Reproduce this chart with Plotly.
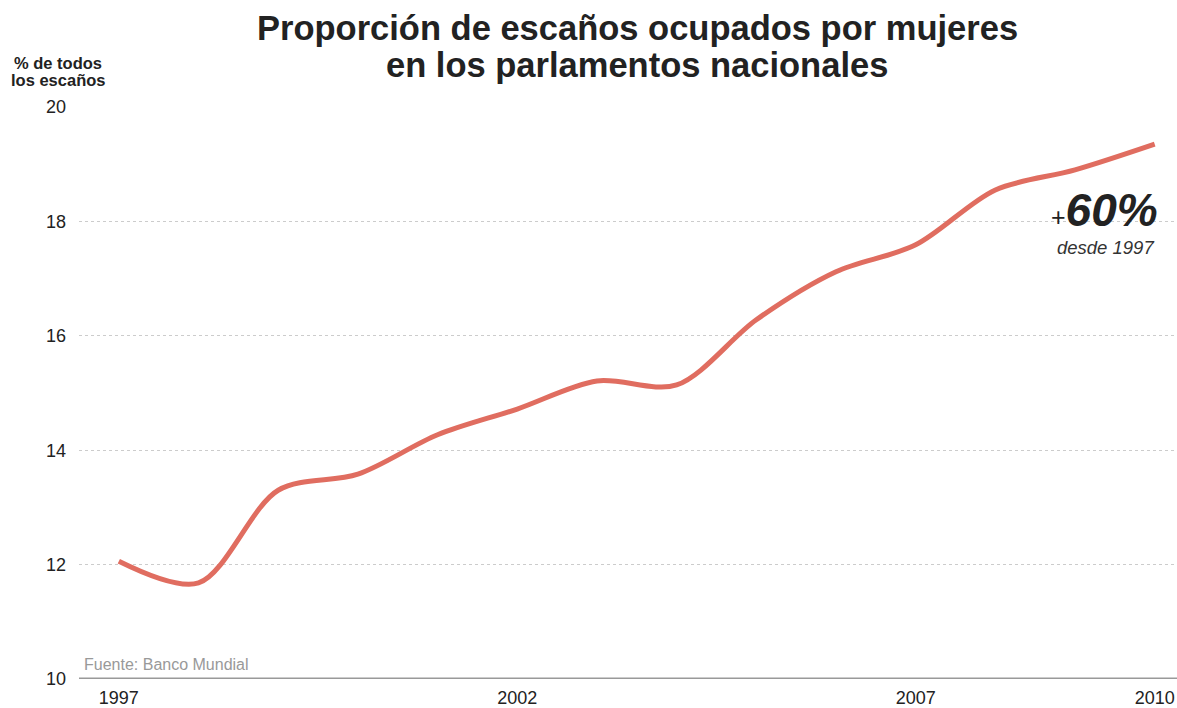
import plotly.graph_objects as go

years = [1997, 1998, 1999, 2000, 2001, 2002, 2003, 2004, 2005, 2006, 2007, 2008, 2009, 2010]
share = [12.06, 11.68, 13.30, 13.58, 14.27, 14.72, 15.21, 15.14, 16.28, 17.12, 17.59, 18.55, 18.90, 19.35]
x_ticks = [1997, 2002, 2007, 2010]
y_ticks = [10, 12, 14, 16, 18, 20]

FONT = "Liberation Sans, Arial, Helvetica, sans-serif"
W, H = 1177, 708
ML, MR, MT, MB = 79, 0, 107, 29


def px(xp):
    return (xp - ML) / (W - ML - MR)


def py(yp):
    return (H - MB - yp) / (H - MT - MB)


fig = go.Figure()
fig.add_trace(go.Scatter(
    x=years, y=share, mode="lines",
    line=dict(color="#E06D60", width=5, shape="spline", smoothing=0.9),
    hoverinfo="x+y",
))

fig.update_layout(
    width=W, height=H,
    margin=dict(l=ML, r=MR, t=MT, b=MB, autoexpand=False),
    paper_bgcolor="white", plot_bgcolor="white",
    showlegend=False,
    font=dict(family=FONT, color="#222222", size=18),
    xaxis=dict(
        range=[1996.5, 2010.28],
        tickvals=x_ticks, ticktext=[str(v) for v in x_ticks],
        showgrid=False, zeroline=False, automargin=False,
        showline=False, ticks="", tickfont=dict(size=18, color="#222222"),
        ticklabelstandoff=6,
        fixedrange=True,
    ),
    yaxis=dict(
        range=[10, 20],
        tickvals=y_ticks,
        showgrid=True, gridcolor="#CCCCCC", griddash="dot", gridwidth=1,
        zeroline=False, showline=False, ticks="", automargin=False,
        ticklabelstandoff=12,
        tickfont=dict(size=18, color="#222222"),
        fixedrange=True,
    ),
)

# bottom axis line
fig.add_shape(type="line", xref="paper", yref="y", x0=0, x1=1, y0=10, y1=10,
              line=dict(color="#999999", width=3))

title_lines = ["Proporción de escaños ocupados por mujeres", "en los parlamentos nacionales"]
for txt, yc in zip(title_lines, [28, 65]):
    fig.add_annotation(
        text=f"<b>{txt}</b>", xref="paper", yref="paper",
        x=px(637), y=py(yc), xanchor="center", yanchor="middle", showarrow=False,
        font=dict(size=34.5, color="#222222", family=FONT),
    )

for txt, yc in zip(["% de todos", "los escaños"], [63, 80]):
    fig.add_annotation(
        text=f"<b>{txt}</b>", xref="paper", yref="paper",
        x=px(58), y=py(yc), xanchor="center", yanchor="middle", showarrow=False,
        font=dict(size=16.5, color="#222222", family=FONT),
    )

fig.add_annotation(
    text="Fuente: Banco Mundial", xref="paper", yref="paper",
    x=px(82), y=py(664), xanchor="left", yanchor="middle", showarrow=False,
    font=dict(size=16, color="#999999", family=FONT),
)
fig.add_annotation(
    text="<span style='font-size:25px'>+</span><b><i>60%</i></b>", xref="paper", yref="paper",
    x=px(1160), y=py(210), xanchor="right", yanchor="middle", showarrow=False,
    font=dict(size=46, color="#222222", family=FONT),
)
fig.add_annotation(
    text="<i>desde 1997</i>", xref="paper", yref="paper",
    x=px(1156), y=py(247), xanchor="right", yanchor="middle", showarrow=False,
    font=dict(size=18.5, color="#333333", family=FONT),
)

fig.write_html("out.html", config={"displayModeBar": False},
               post_script="document.body.style.margin='0';document.body.style.padding='0';")
